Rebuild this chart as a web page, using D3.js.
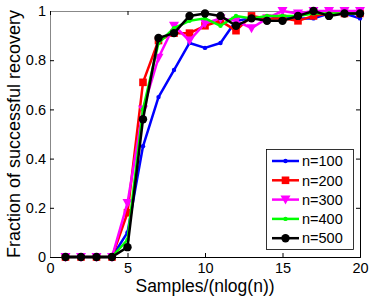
<!DOCTYPE html>
<html><head><meta charset="utf-8">
<script src="https://cdn.jsdelivr.net/npm/d3@7"></script>
<style>body{margin:0;background:#fff}svg{display:block}text{font-family:"Liberation Sans",Arial,sans-serif}</style>
</head><body><svg id="c" width="374" height="301"></svg>
<script>
const xValues = [1,2,3,4,5,6,7,8,9,10,11,12,13,14,15,16,17,18,19,20];
const n100 = [0,0,0,0,0.10,0.45,0.65,0.76,0.87,0.85,0.87,0.96,0.97,0.97,0.98,0.97,0.97,0.99,0.99,0.97];
const n200 = [0,0,0,0,0.18,0.71,0.88,0.91,0.91,0.94,0.96,0.92,0.98,0.97,0.97,0.96,0.98,0.99,0.99,0.99];
const n300 = [0,0,0,0,0.22,0.60,0.81,0.94,0.88,0.95,0.97,0.96,0.93,0.97,1.0,0.99,1.0,1.0,1.0,1.0];
const n400 = [0,0,0,0,0.07,0.60,0.87,0.93,0.96,0.97,0.94,0.98,0.97,0.98,0.98,0.98,0.99,0.99,0.99,0.99];
const n500 = [0,0,0,0,0.04,0.56,0.89,0.91,0.98,0.99,0.98,0.94,0.97,0.96,0.96,0.98,1.0,0.98,0.99,0.99];
const seriesNames = ["n=100","n=200","n=300","n=400","n=500"];
const xTicks = [0,5,10,15,20];
const yTicks = [0,0.2,0.4,0.6,0.8,1];
const yTickLabels = ["0","0.2","0.4","0.6","0.8","1"];

const series = [
  {name: seriesNames[0], vals: n100, color: "#0000ff", marker: "dot"},
  {name: seriesNames[1], vals: n200, color: "#ff0000", marker: "square"},
  {name: seriesNames[2], vals: n300, color: "#ff00ff", marker: "tri"},
  {name: seriesNames[3], vals: n400, color: "#00ff00", marker: "dot"},
  {name: seriesNames[4], vals: n500, color: "#000000", marker: "circle"}
];

const svg = d3.select("#c");
const L = 50, R = 360, T = 11, B = 257;
const x = d3.scaleLinear().domain([0,20]).range([L,R]);
const y = d3.scaleLinear().domain([0,1]).range([B,T]);

const ax = svg.append("g").attr("transform",`translate(0,${B})`)
  .call(d3.axisBottom(x).tickValues(xTicks).tickSize(-4).tickPadding(6).tickFormat(d3.format("d")));
const ay = svg.append("g").attr("transform",`translate(${L},0)`)
  .call(d3.axisLeft(y).tickValues(yTicks).tickSize(-4).tickPadding(4).tickFormat((d,i)=>yTickLabels[i]));
const axTop = svg.append("g").attr("transform",`translate(0,${T})`)
  .call(d3.axisTop(x).tickValues(xTicks).tickSize(-4).tickFormat(""));
const ayR = svg.append("g").attr("transform",`translate(${R},0)`)
  .call(d3.axisRight(y).tickValues(yTicks).tickSize(-4).tickFormat(""));
[ax,ay,axTop,ayR].forEach(g=>{
  g.select(".domain").attr("stroke","#000");
  g.selectAll(".tick line").attr("stroke","#000");
  g.selectAll("text").attr("font-size",14.5).attr("fill","#000");
});
ay.select(".domain").attr("stroke","#888");
axTop.select(".domain").attr("stroke","#888");

const line = d3.line().x((d,i)=>x(xValues[i])).y(d=>y(d));

function drawMarker(g, type, color, cx, cy){
  if(type==="dot") g.append("circle").attr("cx",cx).attr("cy",cy).attr("r",2.2).attr("fill",color);
  else if(type==="circle") g.append("circle").attr("cx",cx).attr("cy",cy).attr("r",4.2).attr("fill",color);
  else if(type==="square") g.append("rect").attr("x",cx-3.8).attr("y",cy-3.8).attr("width",7.6).attr("height",7.6).attr("fill",color);
  else if(type==="tri") g.append("path").attr("d",`M${cx-5},${cy-4}L${cx+5},${cy-4}L${cx},${cy+5}Z`).attr("fill",color);
}

series.forEach(s=>{
  const g = svg.append("g");
  g.append("path").datum(s.vals).attr("d",line).attr("fill","none")
    .attr("stroke",s.color).attr("stroke-width",2.5).attr("stroke-linejoin","round");
  s.vals.forEach((v,i)=>drawMarker(g, s.marker, s.color, x(xValues[i]), y(v)));
});

const lg = svg.append("g");
lg.append("rect").attr("x",266.5).attr("y",149.5).attr("width",87).attr("height",100)
  .attr("fill","#fff").attr("stroke","#000").attr("stroke-width",0.8);
series.forEach((s,i)=>{
  const yy = 161 + i*19.3;
  lg.append("line").attr("x1",272).attr("x2",299).attr("y1",yy).attr("y2",yy)
    .attr("stroke",s.color).attr("stroke-width",2.5);
  drawMarker(lg, s.marker, s.color, 285.5, yy);
  lg.append("text").attr("x",302).attr("y",yy).attr("dy","0.36em")
    .attr("font-size",14.5).text(s.name);
});

svg.append("text").attr("x",205).attr("y",292).attr("text-anchor","middle")
  .attr("font-size",17.5).text("Samples/(nlog(n))");
svg.append("text").attr("transform","translate(20,134) rotate(-90)").attr("text-anchor","middle")
  .attr("font-size",18).text("Fraction of successful recovery");
</script></body></html>
